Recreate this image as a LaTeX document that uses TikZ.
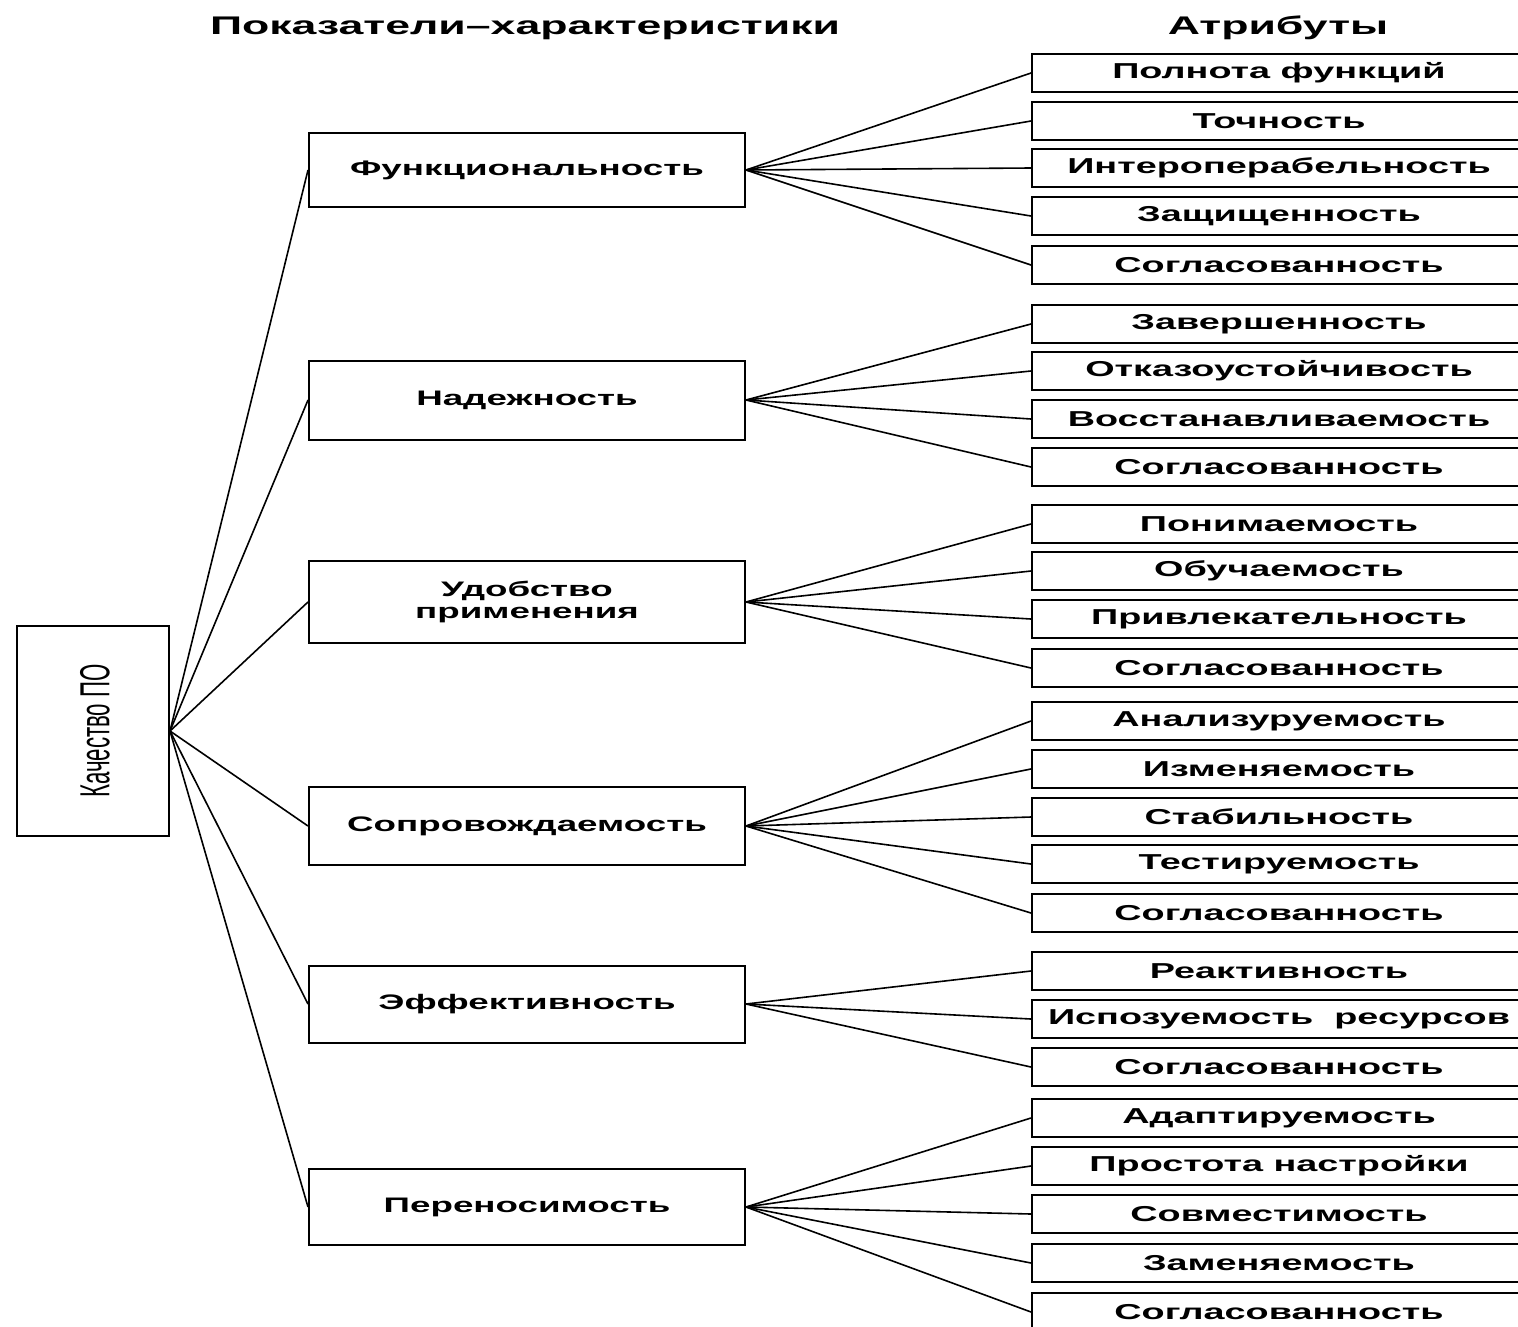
\documentclass[tikz,border=0pt]{standalone}
\usepackage{fontspec}
\setmainfont{Liberation Sans}
\newfontfamily\wf[FakeStretch=1.75]{Liberation Sans}
\newfontfamily\nf[FakeStretch=0.53]{Liberation Sans}
\begin{document}
\begin{tikzpicture}[x=1pt,y=-1pt,
  box/.style={draw, line width=2pt, inner sep=0pt},
  attr/.style={box, minimum width=494pt, minimum height=38pt, anchor=west,
    font=\wf\bfseries\fontsize{21.6}{21.6}\selectfont},
  mid/.style={box, minimum width=436pt, align=center,
    font=\wf\bfseries\fontsize{21}{22}\selectfont},
  ttl/.style={font=\wf\bfseries\fontsize{25.5}{25.5}\selectfont},
  con/.style={line width=1.6pt}]
\useasboundingbox[fill=white] (0,0) rectangle (1518,1326);
% titles
\node[ttl] (t1) at (525,28) {Показатели–характеристики};
\node[ttl] (t2) at (1278,28) {Атрибуты};
% root
\node[box, minimum width=152pt, minimum height=210pt] (q) at (93,731) {};
\node[rotate=90, font=\nf\fontsize{42}{42}\selectfont] (qt) at (95,731) {Качество ПО};
% middle
\node[mid, minimum height=74pt] (m1) at (527,170) {Функциональность};
\node[mid, minimum height=79pt] (m2) at (527,400) {Надежность};
\node[mid, minimum height=82pt] (m3) at (527,602) {Удобство\\применения};
\node[mid, minimum height=78pt] (m4) at (527,826) {Сопровождаемость};
\node[mid, minimum height=77pt] (m5) at (527,1004) {Эффективность};
\node[mid, minimum height=76pt] (m6) at (527,1207) {Переносимость};
% attributes
\node[attr] (a1) at (1031,73) {Полнота функций};
\node[attr] (a2) at (1031,121) {Точность};
\node[attr] (a3) at (1031,168) {Интероперабельность};
\node[attr] (a4) at (1031,216) {Защищенность};
\node[attr] (a5) at (1031,265) {Согласованность};
\node[attr] (b1) at (1031,324) {Завершенность};
\node[attr] (b2) at (1031,371) {Отказоустойчивость};
\node[attr] (b3) at (1031,419) {Восстанавливаемость};
\node[attr] (b4) at (1031,467) {Согласованность};
\node[attr] (c1) at (1031,524) {Понимаемость};
\node[attr] (c2) at (1031,571) {Обучаемость};
\node[attr] (c3) at (1031,619) {Привлекательность};
\node[attr] (c4) at (1031,668) {Согласованность};
\node[attr] (d1) at (1031,721) {Анализуруемость};
\node[attr] (d2) at (1031,769) {Изменяемость};
\node[attr] (d3) at (1031,817) {Стабильность};
\node[attr] (d4) at (1031,864) {Тестируемость};
\node[attr] (d5) at (1031,913) {Согласованность};
\node[attr] (e1) at (1031,971) {Реактивность};
\node[attr] (e2) at (1031,1019) {Испозуемость\ \ ресурсов};
\node[attr] (e3) at (1031,1067) {Согласованность};
\node[attr] (f1) at (1031,1118) {Адаптируемость};
\node[attr] (f2) at (1031,1166) {Простота настройки};
\node[attr] (f3) at (1031,1214) {Совместимость};
\node[attr] (f4) at (1031,1263) {Заменяемость};
\node[attr] (f5) at (1031,1312) {Согласованность};
% connectors
\foreach \m in {m1,m2,m3,m4,m5,m6} \draw[con] (q.east) -- (\m.west);
\foreach \a in {a1,a2,a3,a4,a5} \draw[con] (m1.east) -- (\a.west);
\foreach \a in {b1,b2,b3,b4} \draw[con] (m2.east) -- (\a.west);
\foreach \a in {c1,c2,c3,c4} \draw[con] (m3.east) -- (\a.west);
\foreach \a in {d1,d2,d3,d4,d5} \draw[con] (m4.east) -- (\a.west);
\foreach \a in {e1,e2,e3} \draw[con] (m5.east) -- (\a.west);
\foreach \a in {f1,f2,f3,f4,f5} \draw[con] (m6.east) -- (\a.west);
\end{tikzpicture}
\end{document}
